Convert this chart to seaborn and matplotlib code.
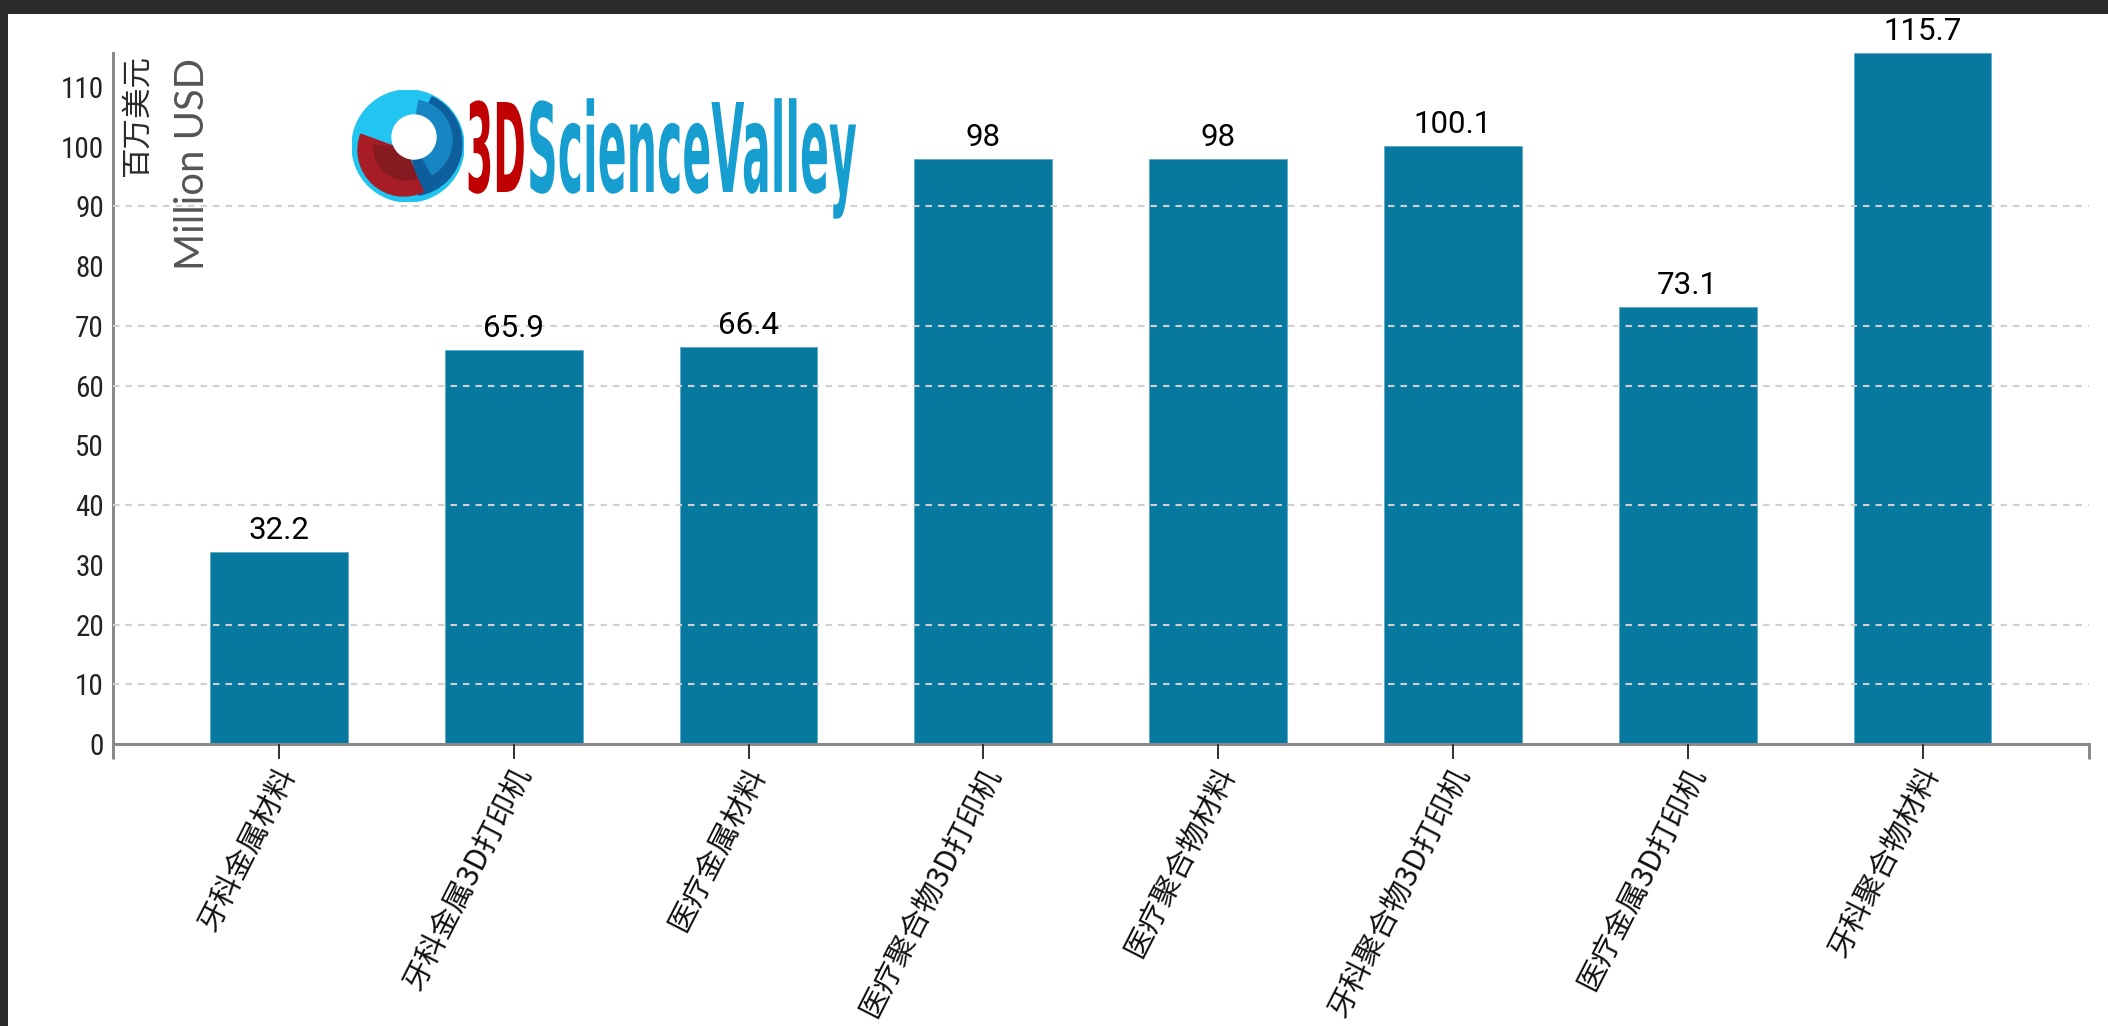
import matplotlib
matplotlib.use("Agg")
import matplotlib.pyplot as plt
import matplotlib.transforms as mtransforms
from matplotlib import font_manager as fm
from matplotlib.patches import Rectangle, Circle, Wedge
from matplotlib.patheffects import AbstractPathEffect
import numpy as np
import pandas as pd
import seaborn as sns

# ---------------- data ----------------
categories = ["牙科金属材料", "牙科金属3D打印机", "医疗金属材料", "医疗聚合物3D打印机",
              "医疗聚合物材料", "牙科聚合物3D打印机", "医疗金属3D打印机", "牙科聚合物材料"]
values = [32.2, 65.9, 66.4, 98, 98, 100.1, 73.1, 115.7]
value_labels = ["32.2", "65.9", "66.4", "98", "98", "100.1", "73.1", "115.7"]
y_ticks = [0, 10, 20, 30, 40, 50, 60, 70, 80, 90, 100, 110]
grid_levels = [10, 20, 40, 60, 70, 90]
unit_cn = "百万美元"
unit_en = "Million USD"
logo_red = "3D"
logo_blue = "ScienceValley"

# ---------------- fonts ----------------
sns.set_style("white")
available = {f.name for f in fm.fontManager.ttflist}


def pick(*names):
    for n in names:
        if n in available:
            return n
    return "DejaVu Sans"


CJK = ["Noto Sans CJK SC", "DejaVu Sans"]
NUM = pick("Roboto", "Open Sans", "Noto Sans")
NARROW = pick("Liberation Sans Narrow", "Roboto Condensed", "DejaVu Sans Condensed", "Roboto")
LIGHT = pick("Lato", "Open Sans", "Roboto")
plt.rcParams["font.family"] = CJK

W, H = 2108, 1026
fig = plt.figure(figsize=(W / 100, H / 100), dpi=100)
fig.patch.set_facecolor("#2a2a2a")
fig.add_artist(Rectangle((8 / W, 0), 1, (H - 14) / H, transform=fig.transFigure,
                         facecolor="white", edgecolor="none", zorder=-5))

# axes box: left 113, right 2089, top 53, bottom 744 (pixels)
ax = fig.add_axes([113 / W, (H - 744) / H, (2089 - 113) / W, (744 - 53) / H])
ax.set_facecolor("white")

df = pd.DataFrame({"cat": categories, "val": values})
sns.barplot(data=df, x="cat", y="val", order=categories, color="#07789E",
            saturation=1, width=0.587, edgecolor="#5FA9C4", linewidth=0.6, ax=ax)

xmin, xmax = -0.707, 7.709
ax.set_xlim(xmin, xmax)
ax.set_ylim(0, max(values))
ax.set_xlabel("")
ax.set_ylabel("")

for s in ["top", "right"]:
    ax.spines[s].set_visible(False)
for s in ["left", "bottom"]:
    ax.spines[s].set_color("#8a8a8a")
    ax.spines[s].set_linewidth(2.16)

# y axis ticks
ax.set_yticks(y_ticks)
ax.set_yticklabels([str(v) for v in y_ticks])
ax.tick_params(axis="y", which="major", length=0, pad=6.5, labelsize=21, labelcolor="#222222")
for lbl in ax.get_yticklabels():
    lbl.set_family([NARROW, "DejaVu Sans"])

# grid only at selected levels (minor ticks, allowed to overlap major ticks)
ax.yaxis.remove_overlapping_locs = False
ax.set_yticks(grid_levels, minor=True)
ax.tick_params(axis="y", which="minor", length=0)
ax.grid(False)
ax.grid(True, which="minor", axis="y", color="#d0d0d0", linewidth=1.5,
        linestyle=(0, (3.1, 2.9)))
ax.set_axisbelow(False)

# x axis ticks
ax.tick_params(axis="x", which="major", length=10.8, width=1.44, color="#333333",
               pad=7.2, labelsize=21.5, labelcolor="#111111", bottom=True)
ax.set_xticks(range(len(categories)))
ax.set_xticklabels(categories)
offset = mtransforms.ScaledTranslation(10 / 100, 0, fig.dpi_scale_trans)
for lbl in ax.get_xticklabels():
    lbl.set_rotation(63)
    lbl.set_ha("right")
    lbl.set_va("center")
    lbl.set_rotation_mode("anchor")
    lbl.set_family(CJK)
    lbl.set_transform(lbl.get_transform() + offset)

# outer ticks at the ends of the x domain
ax.set_xticks([xmin, xmax], minor=True)
ax.tick_params(axis="x", which="minor", length=10.8, width=2.16, color="#8a8a8a", bottom=True)

# value labels
for bar, lab in zip(ax.patches, value_labels):
    cx = bar.get_x() + bar.get_width() / 2
    ax.annotate(lab, xy=(cx, bar.get_height()), xytext=(0, 9.4), textcoords="offset points",
                ha="center", va="baseline", fontsize=22.5, family=[NUM, "DejaVu Sans"],
                color="black", annotation_clip=False)

renderer = fig.canvas.get_renderer()


def fit(txt, target, vertical=False):
    for _ in range(3):
        bb = txt.get_window_extent(renderer)
        cur = bb.height if vertical else bb.width
        if cur > 0:
            txt.set_fontsize(txt.get_fontsize() * target / cur)


# unit labels
t_en = fig.text(192 / W, 1 - 164 / H, unit_en, rotation=90, ha="center", va="center",
                fontsize=28, family=[LIGHT, "DejaVu Sans"], color="#555555")
fit(t_en, 212, vertical=True)
t_cn = fig.text(137.5 / W, 1 - 116 / H, unit_cn, rotation=90, ha="center", va="center",
                fontsize=21, family=CJK, color="#2a2a2a")
fit(t_cn, 122, vertical=True)


# ---------------- logo ----------------
class Stretch(AbstractPathEffect):
    """Stretch glyphs vertically about the baseline (the logo lettering is very condensed)."""

    def __init__(self, sy, y0):
        super().__init__()
        self.sy, self.y0 = sy, y0

    def draw_path(self, rend, gc, tpath, affine, rgbFace=None):
        a = affine + mtransforms.Affine2D().translate(0, -self.y0).scale(1, self.sy).translate(0, self.y0)
        rend.draw_path(gc, tpath, a, rgbFace)


LOGO = "DejaVu Sans"
BASE = H - 192
CAP = 90


def logo_text(s, x0, x1, color):
    t = fig.text(x0 / W, BASE / H, s, ha="left", va="baseline", fontsize=30,
                 fontweight="bold", family=[LOGO], color=color)
    fit(t, x1 - x0)
    cap_px = 0.729 * t.get_fontsize() * 100 / 72
    t.set_path_effects([Stretch(CAP / cap_px, BASE)])
    return t


logo_text(logo_red, 466, 526, "#C00000")
logo_text(logo_blue, 527, 857, "#169ED0")

lax = fig.add_axes([352 / W, (H - 202) / H, 112 / W, 112 / H])
lax.set_xlim(0, 112)
lax.set_ylim(0, 112)
lax.axis("off")
lax.add_patch(Circle((56, 56), 56, color="#22C4F0"))
lax.add_patch(Wedge((58, 58), 52, -80, 65, color="#0D5E9C"))
lax.add_patch(Wedge((60, 62), 40, -60, 80, color="#1784C3"))
lax.add_patch(Wedge((52, 52), 46, 160, 295, color="#A81C26"))
lax.add_patch(Wedge((54, 54), 32, 175, 290, color="#861A21"))
lax.add_patch(Circle((62, 65), 22, color="white"))

fig.savefig("out.png", dpi=100, facecolor=fig.get_facecolor())
